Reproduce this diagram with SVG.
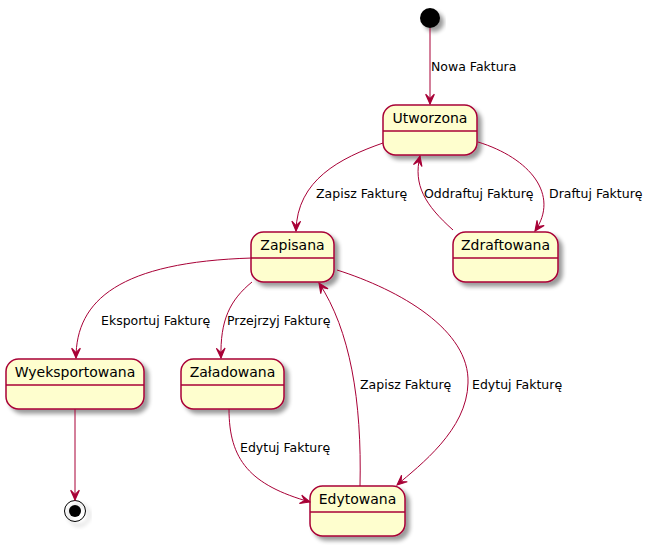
<svg xmlns="http://www.w3.org/2000/svg" width="655" height="547" viewBox="0 0 655 547">
<style>
.st{fill:#FEFECE;stroke:#A80036;stroke-width:1.5;filter:url(#sh)}
.dv{stroke:#A80036;stroke-width:1.5}
.nm{font-family:"DejaVu Sans",sans-serif;font-size:14px;fill:#000;text-anchor:middle}
.lb{font-family:"DejaVu Sans",sans-serif;font-size:12.5px;fill:#000}
.e{fill:none;stroke:#A80036;stroke-width:1;marker-end:url(#ar)}
</style>
<defs>
<filter id="sh" x="-20%" y="-20%" width="150%" height="160%">
<feGaussianBlur in="SourceAlpha" stdDeviation="2"/>
<feOffset dx="4" dy="4" result="b"/>
<feComponentTransfer><feFuncA type="linear" slope="0.4"/></feComponentTransfer>
<feMerge><feMergeNode/><feMergeNode in="SourceGraphic"/></feMerge>
</filter>
<marker id="ar" markerUnits="userSpaceOnUse" markerWidth="12" markerHeight="12" viewBox="-10 -5 11 10" refX="0" refY="0" orient="auto">
<path d="M0,0 L-9,-4 L-5,0 L-9,4 Z" fill="#A80036" stroke="#A80036" stroke-width="1"/>
</marker>
</defs>

<g id="start"><circle cx="430" cy="18" r="10" fill="#000" filter="url(#sh)"/></g>

<g id="Utworzona">
<rect class="st" x="383" y="105" width="94" height="50" rx="12.5"/>
<line class="dv" x1="383" y1="131" x2="477" y2="131"/>
<text class="nm" x="430" y="123">Utworzona</text>
</g>
<g id="Zapisana">
<rect class="st" x="251" y="232" width="83" height="50" rx="12.5"/>
<line class="dv" x1="251" y1="258" x2="334" y2="258"/>
<text class="nm" x="292.5" y="250">Zapisana</text>
</g>
<g id="Zdraftowana">
<rect class="st" x="453" y="232" width="105" height="50" rx="12.5"/>
<line class="dv" x1="453" y1="258" x2="558" y2="258"/>
<text class="nm" x="505.5" y="250">Zdraftowana</text>
</g>
<g id="Wyeksportowana">
<rect class="st" x="6" y="359" width="138" height="50" rx="12.5"/>
<line class="dv" x1="6" y1="385" x2="144" y2="385"/>
<text class="nm" x="75" y="377">Wyeksportowana</text>
</g>
<g id="Zaladowana">
<rect class="st" x="181" y="359" width="103" height="50" rx="12.5"/>
<line class="dv" x1="181" y1="385" x2="284" y2="385"/>
<text class="nm" x="232.5" y="377">Załadowana</text>
</g>
<g id="Edytowana">
<rect class="st" x="310" y="486" width="95" height="50" rx="12.5"/>
<line class="dv" x1="310" y1="512" x2="405" y2="512"/>
<text class="nm" x="357.5" y="504">Edytowana</text>
</g>
<g id="end">
<circle cx="75" cy="511" r="10.5" fill="none" stroke="#000" stroke-width="1" filter="url(#sh)"/>
<circle cx="75" cy="511" r="6" fill="#000"/>
</g>

<g id="connectors">
<path class="e" d="M430,28 L430,104"/>
<path class="e" d="M383,143 C340,158 297,180 296,231"/>
<path class="e" d="M453,230 C425,205 413,185 420,156"/>
<path class="e" d="M478,142 C530,158 560,195 535,231"/>
<path class="e" d="M252,258 C120,262 76,300 76,358"/>
<path class="e" d="M252,282 C230,300 220,320 221,358"/>
<path class="e" d="M360,486 C362,400 350,330 319,283"/>
<path class="e" d="M337,270 C400,290 470,330 468,383 C467,430 420,465 397,485"/>
<path class="e" d="M229,409 C229,460 250,485 310,502"/>
<path class="e" d="M75,409 L75,500"/>
</g>

<g id="labels">
<text class="lb" x="431" y="71">Nowa Faktura</text>
<text class="lb" x="316" y="198">Zapisz Fakturę</text>
<text class="lb" x="424" y="198">Oddraftuj Fakturę</text>
<text class="lb" x="549" y="198">Draftuj Fakturę</text>
<text class="lb" x="101" y="325">Eksportuj Fakturę</text>
<text class="lb" x="227" y="325">Przejrzyj Fakturę</text>
<text class="lb" x="360" y="389">Zapisz Fakturę</text>
<text class="lb" x="472" y="389">Edytuj Fakturę</text>
<text class="lb" x="240" y="452">Edytuj Fakturę</text>
</g>
</svg>
